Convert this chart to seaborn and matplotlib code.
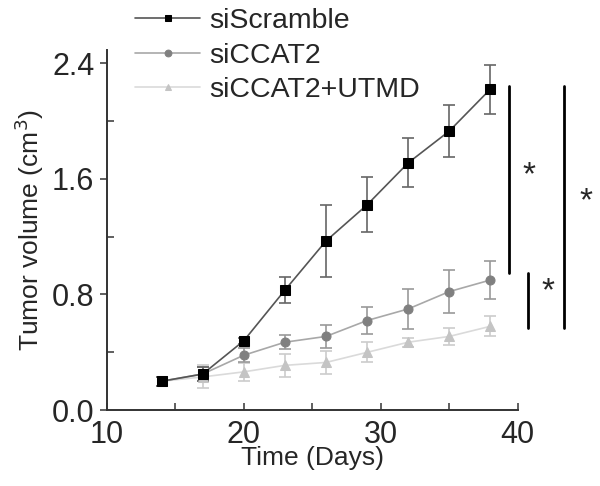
import numpy as np
import pandas as pd
import seaborn as sns
import matplotlib.pyplot as plt
from matplotlib.ticker import MultipleLocator

days = [14, 17, 20, 23, 26, 29, 32, 35, 38]
groups = ["siScramble", "siCCAT2", "siCCAT2+UTMD"]
scramble_mean = [0.20, 0.25, 0.48, 0.83, 1.17, 1.42, 1.71, 1.93, 2.22]
scramble_err = [0.03, 0.05, 0.02, 0.09, 0.25, 0.19, 0.17, 0.18, 0.17]
ccat2_mean = [0.20, 0.25, 0.38, 0.47, 0.51, 0.62, 0.70, 0.82, 0.90]
ccat2_err = [0.03, 0.05, 0.05, 0.05, 0.08, 0.09, 0.14, 0.15, 0.13]
utmd_mean = [0.20, 0.23, 0.265, 0.31, 0.33, 0.40, 0.47, 0.51, 0.58]
utmd_err = [0.03, 0.08, 0.06, 0.08, 0.08, 0.07, 0.03, 0.06, 0.07]

# significance brackets: (x, y_low, y_high) and star positions
sig_lines = [(39.35, 0.95, 2.24), (40.75, 0.57, 0.95), (43.4, 0.57, 2.24)]
sig_stars = [(40.8, 1.62), (42.2, 0.82), (45.0, 1.44)]

df = pd.DataFrame({
    "day": days * 3,
    "volume": scramble_mean + ccat2_mean + utmd_mean,
    "err": scramble_err + ccat2_err + utmd_err,
    "group": sum([[g] * len(days) for g in groups], []),
})

sns.set_style("ticks")
plt.rcParams["font.family"] = ["Liberation Sans", "DejaVu Sans"]

fig = plt.figure(figsize=(6, 4.86), dpi=100)
ax = fig.add_axes([0.178, 0.156, 0.685, 0.741])

line_colors = {"siScramble": "#555555", "siCCAT2": "#a8a8a8", "siCCAT2+UTMD": "#dadada"}
marker_colors = {"siScramble": "#000000", "siCCAT2": "#808080", "siCCAT2+UTMD": "#c4c4c4"}
markers = {"siScramble": "s", "siCCAT2": "o", "siCCAT2+UTMD": "^"}
err_colors = {"siScramble": "#666666", "siCCAT2": "#999999", "siCCAT2+UTMD": "#cccccc"}

for g in groups[::-1]:
    sub = df[df.group == g]
    ax.errorbar(sub.day, sub.volume, yerr=sub.err, fmt="none", ecolor=err_colors[g],
                elinewidth=1.2, capsize=4, capthick=1.2, zorder=2)
    sns.lineplot(data=sub, x="day", y="volume", ax=ax, color=line_colors[g],
                 marker=markers[g], markersize=6.5, markerfacecolor=marker_colors[g],
                 markeredgecolor=marker_colors[g], linewidth=1.2, label=g, zorder=3)

for x, y0, y1 in sig_lines:
    ax.plot([x, x], [y0, y1], color="black", lw=2, clip_on=False)
for x, y in sig_stars:
    ax.text(x, y, "*", fontsize=24, ha="center", va="center", clip_on=False)

ax.set_xlim(10, 40)
ax.set_ylim(0, 2.49)
ax.xaxis.set_major_locator(MultipleLocator(10))
ax.xaxis.set_minor_locator(MultipleLocator(5))
ax.yaxis.set_major_locator(MultipleLocator(0.8))
ax.yaxis.set_minor_locator(MultipleLocator(0.4))
ax.yaxis.set_major_formatter(plt.FuncFormatter(lambda v, p: f"{v:.1f}"))
ax.tick_params(axis="x", which="both", direction="in", length=5, width=1.2,
               color="#444444", labelsize=22, pad=7)
ax.tick_params(axis="y", which="major", direction="out", length=5, width=1.2,
               color="#444444", labelsize=22, pad=4)
ax.tick_params(axis="y", which="minor", direction="in", length=5, width=1.2, color="#444444")
for s in ["left", "bottom"]:
    ax.spines[s].set_color("#333333")
    ax.spines[s].set_linewidth(1.4)
sns.despine(ax=ax)

ax.set_xlabel("Time (Days)", fontsize=19, labelpad=-3)
ax.set_ylabel("Tumor volume (cm$^3$)", fontsize=19, labelpad=4)

handles, labels = ax.get_legend_handles_labels()
order = [labels.index(g) for g in groups]
ax.legend([handles[i] for i in order], groups, loc="upper left",
          bbox_to_anchor=(135 / 600, 1 - 8 / 486), bbox_transform=fig.transFigure,
          frameon=False, fontsize=20.5, handlelength=2.3, handletextpad=0.3,
          labelspacing=0.3, borderpad=0, borderaxespad=0, markerscale=0.75)

fig.savefig("out.png", dpi=100)
